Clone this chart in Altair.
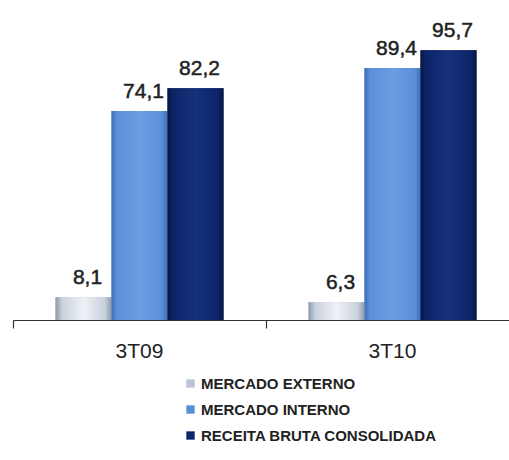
import altair as alt
import pandas as pd

periods = ["3T09", "3T10"]
series = ["MERCADO EXTERNO", "MERCADO INTERNO", "RECEITA BRUTA CONSOLIDADA"]
mercado_externo = [8.1, 6.3]
mercado_interno = [74.1, 89.4]
receita_bruta = [82.2, 95.7]

values_by_series = [mercado_externo, mercado_interno, receita_bruta]
rows = []
for s, vals in zip(series, values_by_series):
    for p, v in zip(periods, vals):
        rows.append({"period": p, "series": s, "value": v})
df = pd.DataFrame(rows)

flat_colors = ["#bcc6d3", "#5b8fd8", "#0d2466"]
gradients = [
    [("#8d99ab", 0), ("#c9d1dc", 0.12), ("#eef2f6", 0.5), ("#c9d1dc", 0.88), ("#8d99ab", 1)],
    [("#3f6fb8", 0), ("#5b8fd8", 0.1), ("#6c9de3", 0.5), ("#5b8fd8", 0.9), ("#3f6fb8", 1)],
    [("#061644", 0), ("#0d2466", 0.1), ("#15317c", 0.5), ("#0d2466", 0.9), ("#061644", 1)],
]

x_enc = alt.X(
    "period:N",
    scale=alt.Scale(domain=periods, range=[0, 506], paddingInner=0.336, paddingOuter=0.168),
    axis=alt.Axis(
        title=None, labelAngle=0, bandPosition=-0.253, labelFontSize=21,
        labelFont="Liberation Sans", labelColor="#222222", labelPadding=12,
        domainColor="#333333", tickColor="#333333", tickSize=8, domainWidth=1.2, tickWidth=1.2,
    ),
)
xo_enc = alt.XOffset("series:N", scale=alt.Scale(domain=series, paddingInner=0, paddingOuter=0))
y_enc = alt.Y("value:Q", scale=alt.Scale(domain=[0, 100]), axis=None)

base = alt.Chart(df)

legend_bars = base.mark_bar().encode(
    x=x_enc, xOffset=xo_enc, y=y_enc,
    color=alt.Color(
        "series:N",
        scale=alt.Scale(domain=series, range=flat_colors),
        legend=alt.Legend(
            title=None, orient="none", legendX=170, legendY=338, direction="vertical",
            symbolType="square", symbolSize=70, symbolStrokeWidth=0,
            labelFont="Liberation Sans", labelFontSize=15, labelFontWeight="bold",
            labelColor="#222222", rowPadding=10, labelOffset=3, labelLimit=400,
        ),
    ),
)

grad_layers = []
for s, g in zip(series, gradients):
    grad_layers.append(
        base.transform_filter(alt.datum.series == s)
        .mark_bar(
            color=alt.Gradient(
                gradient="linear", x1=0, x2=1, y1=0, y2=0,
                stops=[alt.GradientStop(color=c, offset=o) for c, o in g],
            )
        )
        .encode(x=x_enc, xOffset=xo_enc, y=y_enc)
    )

text = base.transform_calculate(
    label="replace(format(datum.value, '.1f'), '.', ',')"
).mark_text(
    baseline="alphabetic", dy=-13, dx=4, fontSize=21, font="Liberation Sans",
    color="#222222", stroke="#222222", strokeWidth=0.5,
).encode(x=x_enc, xOffset=xo_enc, y=y_enc, text="label:N")

chart = alt.layer(legend_bars, *grad_layers, text).properties(
    width=496, height=282,
    autosize=alt.AutoSizeParams(type="none"),
    padding={"left": 13, "top": 38, "right": 0, "bottom": 140},
).configure_view(stroke=None)

chart.save("out.html", embed_options={"renderer": "svg", "actions": False})
